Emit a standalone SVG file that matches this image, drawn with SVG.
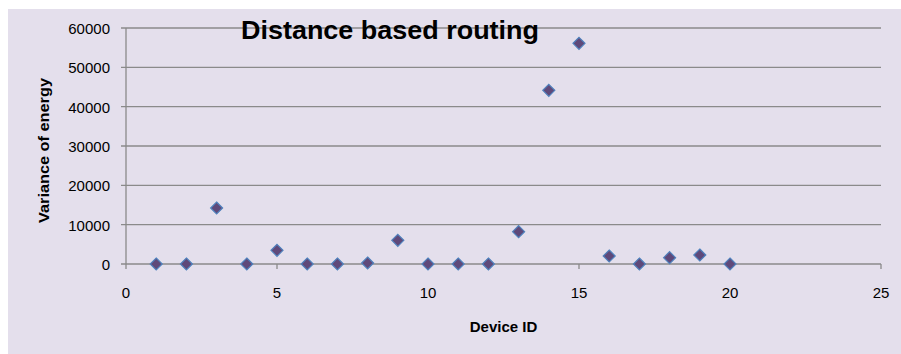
<svg xmlns="http://www.w3.org/2000/svg" xmlns:xlink="http://www.w3.org/1999/xlink" width="901" height="354" viewBox="0 0 901 354">
  <style>
    .grid { stroke: #8a8a8a; stroke-width: 1.3; fill: none; }
    .tick { font-family: "Liberation Sans", Arial, sans-serif; font-size: 15px; fill: #000; }
    .axis-title { font-family: "Liberation Sans", Arial, sans-serif; font-size: 15px; font-weight: bold; fill: #000; }
    .title { font-family: "Liberation Sans", Arial, sans-serif; font-size: 25px; font-weight: bold; fill: #000; }
    .pt { fill: #5f497a; stroke: #4f81bd; stroke-width: 1.2; }
  </style>
  <defs>
    <path id="dia" d="M0,-6 L6,0 L0,6 L-6,0 Z"/>
  </defs>
  <rect x="0" y="0" width="901" height="354" fill="#ffffff"/>
  <rect id="chart-bg" x="8" y="9" width="893" height="345" fill="#e4dfec"/>

  <g id="gridlines">
    <path class="grid" d="M121,28H881 M121,67.3H881 M121,106.7H881 M121,146H881 M121,185.3H881 M121,224.7H881 M121,264H881"/>
    <path class="grid" d="M126,28V269 M277,264V269 M428,264V269 M579,264V269 M730,264V269 M881,264V269"/>
  </g>

  <g id="y-ticks" class="tick" text-anchor="end">
    <text x="110" y="34">60000</text>
    <text x="110" y="73.3">50000</text>
    <text x="110" y="112.7">40000</text>
    <text x="110" y="152">30000</text>
    <text x="110" y="191.3">20000</text>
    <text x="110" y="230.7">10000</text>
    <text x="110" y="270">0</text>
  </g>

  <g id="x-ticks" class="tick" text-anchor="middle">
    <text x="126" y="298">0</text>
    <text x="277" y="298">5</text>
    <text x="428" y="298">10</text>
    <text x="579" y="298">15</text>
    <text x="730" y="298">20</text>
    <text x="881" y="298">25</text>
  </g>

  <g id="data-points">
    <use xlink:href="#dia" class="pt" x="156.2" y="264"/>
    <use xlink:href="#dia" class="pt" x="186.4" y="264"/>
    <use xlink:href="#dia" class="pt" x="216.6" y="208"/>
    <use xlink:href="#dia" class="pt" x="246.8" y="264"/>
    <use xlink:href="#dia" class="pt" x="277" y="250.3"/>
    <use xlink:href="#dia" class="pt" x="307.2" y="264"/>
    <use xlink:href="#dia" class="pt" x="337.4" y="264"/>
    <use xlink:href="#dia" class="pt" x="367.6" y="263"/>
    <use xlink:href="#dia" class="pt" x="397.8" y="240.3"/>
    <use xlink:href="#dia" class="pt" x="428" y="264"/>
    <use xlink:href="#dia" class="pt" x="458.2" y="264"/>
    <use xlink:href="#dia" class="pt" x="488.4" y="264"/>
    <use xlink:href="#dia" class="pt" x="518.6" y="231.7"/>
    <use xlink:href="#dia" class="pt" x="548.8" y="90.3"/>
    <use xlink:href="#dia" class="pt" x="579" y="43.3"/>
    <use xlink:href="#dia" class="pt" x="609.2" y="256"/>
    <use xlink:href="#dia" class="pt" x="639.4" y="264"/>
    <use xlink:href="#dia" class="pt" x="669.6" y="257.7"/>
    <use xlink:href="#dia" class="pt" x="699.8" y="255"/>
    <use xlink:href="#dia" class="pt" x="730" y="264"/>
  </g>

  <g id="titles">
    <text class="title" x="241" y="38.5" textLength="298" lengthAdjust="spacingAndGlyphs">Distance based routing</text>
    <text class="axis-title" x="503.5" y="331.5" text-anchor="middle">Device ID</text>
    <text class="axis-title" transform="translate(49,150.5) rotate(-90)" text-anchor="middle" textLength="145" lengthAdjust="spacingAndGlyphs">Variance of energy</text>
  </g>
</svg>
